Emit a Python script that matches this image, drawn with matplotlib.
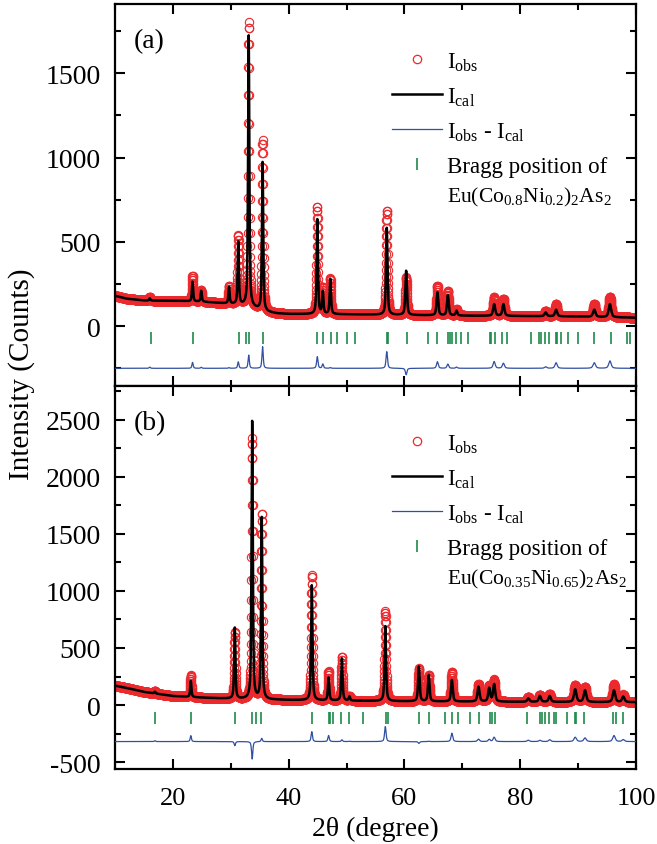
import numpy as np
import matplotlib
matplotlib.use('Agg')
import matplotlib.pyplot as plt
from matplotlib.ticker import MultipleLocator

plt.rcParams['font.family'] = ['Liberation Serif', 'DejaVu Serif']
plt.rcParams['mathtext.fontset'] = 'custom'
plt.rcParams['mathtext.rm'] = 'Liberation Serif'
plt.rcParams['mathtext.it'] = 'Liberation Serif:italic'
plt.rcParams['axes.unicode_minus'] = False

RED = '#ec2a2e'
BLUE = '#2f4fa2'
GREEN = '#1c8a48'

# ---------------- panel (a): Eu(Co0.8Ni0.2)2As2 ----------------
bg_a_x = [10, 12, 15, 20, 25, 30, 33, 36, 38, 40, 50, 60, 70, 80, 90, 100]
bg_a_y = [180, 163, 152, 150, 145, 132, 120, 85, 75, 72, 70, 66, 62, 60, 57, 50]
peak_a_pos = [16.0, 23.4, 24.9, 29.7, 31.3, 33.1, 35.5, 44.95, 45.9, 47.2, 56.95,
              60.3, 65.7, 67.5, 69.0, 75.5, 77.1, 84.4, 86.2, 92.8, 95.5]
peak_a_cal = [165, 263, 209, 231, 497, 1722, 971, 635, 200, 279, 585,
              328, 200, 184, 91, 130, 130, 81, 97, 97, 130]
peak_a_obs = [172, 298, 215, 235, 535, 1800, 1099, 704, 225, 283, 684,
              290, 239, 209, 98, 170, 160, 90, 130, 130, 174]
peak_a_fwhm = [0.25, 0.25, 0.25, 0.25, 0.26, 0.26, 0.26, 0.28, 0.28, 0.28, 0.3,
               0.32, 0.35, 0.35, 0.35, 0.42, 0.42, 0.45, 0.45, 0.5, 0.5]
bragg_a = [16.16, 23.5, 31.4, 32.7, 33.16, 35.5, 44.95, 46.0, 47.4, 48.3, 50.1, 51.5,
           56.95, 57.1, 60.4, 64.0, 65.6, 67.5, 67.9, 68.3, 68.9, 69.8, 70.9,
           74.7, 74.9, 75.6, 76.9, 77.7, 81.8, 83.3, 83.6, 84.3, 85.0, 86.2, 86.4,
           87.1, 88.2, 90.0, 92.8, 95.6, 98.5, 99.0]

# ---------------- panel (b): Eu(Co0.35Ni0.65)2As2 ----------------
bg_b_x = [10, 12, 15, 20, 25, 30, 40, 50, 60, 80, 100]
bg_b_y = [170, 150, 115, 79, 65, 55, 44, 38, 33, 28, 25]
peak_b_pos = [16.9, 23.1, 30.7, 33.7, 35.35, 44.0, 46.9, 49.2, 50.5, 56.7, 62.5, 64.2,
              68.2, 72.8, 74.65, 75.5, 81.4, 83.4, 85.1, 89.5, 91.2, 96.2, 97.8]
peak_b_cal = [117, 210, 676, 2483, 1647, 1049, 239, 408, 73, 691, 336, 262,
              219, 160, 146, 181, 58, 79, 79, 137, 128, 128, 73]
peak_b_obs = [125, 262, 640, 2330, 1676, 1136, 292, 423, 76, 822, 320, 265,
              292, 181, 165, 219, 70, 90, 95, 175, 160, 181, 90]
peak_b_fwhm = [0.25, 0.25, 0.26, 0.26, 0.26, 0.28, 0.28, 0.28, 0.28, 0.3, 0.32, 0.32,
               0.35, 0.42, 0.42, 0.42, 0.45, 0.45, 0.45, 0.5, 0.5, 0.5, 0.5]
bragg_b = [16.9, 23.1, 30.7, 33.7, 34.4, 35.3, 44.1, 46.9, 47.2, 47.6, 49.1, 50.5, 52.9,
           56.85, 57.2, 62.5, 64.2, 67.0, 68.2, 69.2, 71.3, 72.9, 74.7, 75.05, 75.6,
           81.25, 83.4, 83.8, 84.2, 84.9, 85.9, 86.2, 88.0, 89.4, 89.7, 91.1,
           96.1, 96.5, 97.7]

two_theta = np.arange(10, 100.001, 0.02)


def profile(x, pos, top, fwhm, bgx, bgy):
    bg = np.interp(x, bgx, bgy)
    y = bg.copy()
    for p, t, w in zip(pos, top, fwhm):
        amp = t - np.interp(p, bgx, bgy)
        g = np.exp(-4 * np.log(2) * ((x - p) / w) ** 2)
        lor = 1 / (1 + 4 * ((x - p) / w) ** 2)
        y += amp * (0.4 * g + 0.6 * lor)
    return y


def draw_key(ax, phase):
    # hand-placed key, offsets in pixels below the top of the axes
    h = ax.get_window_extent().height
    fy = lambda px: 1 - px / h
    x0, x1, xm, xt = 0.531, 0.6276, 0.5796, 0.638
    ax.plot([xm], [fy(55)], 'o', mfc='none', mec=RED, ms=6, mew=0.9,
            transform=ax.transAxes, clip_on=False)
    ax.plot([x0, x1], [fy(90), fy(90)], '-', color='black', lw=1.8,
            transform=ax.transAxes)
    ax.plot([x0, x1], [fy(124.5), fy(124.5)], '-', color=BLUE, lw=0.9,
            transform=ax.transAxes)
    ax.plot([xm], [fy(159.5)], '|', color=GREEN, ms=8, mew=1.2,
            transform=ax.transAxes)
    kw = dict(transform=ax.transAxes, fontsize=16.5, ha='left', va='baseline')
    ax.text(xt, fy(64), r'I$_{\rm obs}$', **kw)
    ax.text(xt, fy(98.5), r'I$_{\rm cal}$', **kw)
    ax.text(xt, fy(133.5), r'I$_{\rm obs}$ - I$_{\rm cal}$', **kw)
    ax.text(xt, fy(167.5), 'Bragg position of', **kw)
    kw['fontsize'] = 15.5
    ax.text(xt, fy(197.5), phase, **kw)


def draw_panel(ax, pos, cal, obs, fwhm, bgx, bgy, bragg, diff_off, bragg_y,
               ylim, major_ticks, tag, phase):
    i_cal = profile(two_theta, pos, cal, fwhm, bgx, bgy)
    i_obs = profile(two_theta, pos, obs, fwhm, bgx, bgy)

    ax.plot(two_theta, i_obs, 'o', mfc='none', mec=RED, ms=6, mew=0.8, zorder=2)
    ax.plot(two_theta, i_cal, '-', color='black', lw=1.8, zorder=3)
    ax.plot(two_theta, i_obs - i_cal + diff_off, '-', color=BLUE, lw=0.9, zorder=3)
    ax.plot(bragg, np.full(len(bragg), bragg_y), '|', color=GREEN, ms=8, mew=1.2, zorder=3)

    ax.set_xlim(10, 100)
    ax.set_ylim(*ylim)
    ax.set_yticks(major_ticks)
    ax.xaxis.set_major_locator(MultipleLocator(20))
    ax.xaxis.set_minor_locator(MultipleLocator(10))
    ax.yaxis.set_minor_locator(MultipleLocator(250))
    ax.tick_params(which='both', direction='in', top=True, right=True, width=1.5,
                   labelsize=20)
    ax.tick_params(axis='y', which='major', pad=10)
    ax.tick_params(which='major', length=7)
    ax.tick_params(which='minor', length=4)
    for s in ax.spines.values():
        s.set_linewidth(1.6)

    ax.text(0.036, 0.905, tag, transform=ax.transAxes, fontsize=20,
            ha='left', va='center')
    draw_key(ax, phase)


fig = plt.figure(figsize=(6.57, 8.45), dpi=100)
ax_a = fig.add_axes([0.175, 0.542, 0.793, 0.452])
ax_b = fig.add_axes([0.175, 0.0888, 0.793, 0.4532])

draw_panel(ax_a, peak_a_pos, peak_a_cal, peak_a_obs, peak_a_fwhm, bg_a_x, bg_a_y,
           bragg_a, -250, -70, (-355, 1910), [0, 500, 1000, 1500], '(a)',
           r'Eu(Co$_{0.8}$Ni$_{0.2}$)$_2$As$_2$')
draw_panel(ax_b, peak_b_pos, peak_b_cal, peak_b_obs, peak_b_fwhm, bg_b_x, bg_b_y,
           bragg_b, -320, -115, (-560, 2795), [-500, 0, 500, 1000, 1500, 2000, 2500],
           '(b)', r'Eu(Co$_{0.35}$Ni$_{0.65}$)$_2$As$_2$')

ax_a.tick_params(labelbottom=False)
ax_b.tick_params(axis='x', which='major', labelsize=19, pad=13)
ax_b.set_xlabel('2θ (degree)', fontsize=20, labelpad=5)
fig.text(0.033, 0.5574, 'Intensity (Counts)', rotation=90, fontsize=21,
         ha='center', va='center')

fig.savefig('out.png', dpi=100, facecolor='white')
